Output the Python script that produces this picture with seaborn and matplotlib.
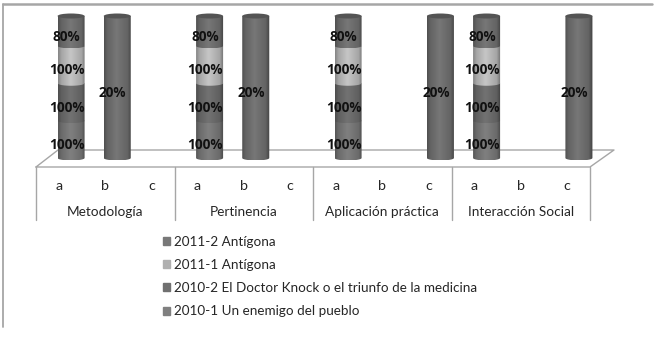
"""Encuesta por obra: columnas cilindricas apiladas al 100 %."""

import matplotlib.pyplot as plt
import numpy as np
import pandas as pd
import seaborn as sns
from matplotlib.colors import to_rgb
from matplotlib.patches import Ellipse, Patch
from matplotlib.path import Path

W, H = 657, 342

GROUPS = ["Metodología", "Pertinencia", "Aplicación práctica", "Interacción Social"]
OPTIONS = ["a", "b", "c"]

# orden: de abajo hacia arriba en cada columna
SERIES = [
    "2010-1 Un enemigo del pueblo",
    "2010-2 El Doctor Knock o el triunfo de la medicina",
    "2011-1 Antígona",
    "2011-2 Antígona",
]
VALUES_2010_1 = [100, 0, 0, 100, 0, 0, 100, 0, 0, 100, 0, 0]
VALUES_2010_2 = [100, 0, 0, 100, 0, 0, 100, 0, 0, 100, 0, 0]
VALUES_2011_1 = [100, 0, 0, 100, 0, 0, 100, 0, 0, 100, 0, 0]
VALUES_2011_2 = [80, 20, 0, 80, 20, 0, 80, 0, 20, 80, 0, 20]
COLORS = ["#747474", "#686868", "#b4b4b4", "#6c6c6c"]
LEGEND_COLORS = ["#808080", "#707070", "#b0b0b0", "#787878"]

LINE = "#a6a6a6"
TEXT = "#262626"

sns.set_theme(style="white")
plt.rcParams["font.family"] = ["Lato", "DejaVu Sans"]

fig = plt.figure(figsize=(W / 100, H / 100), dpi=100, facecolor="white")

# capa de fondo en pixeles: marco, piso y tabla de categorias
bg = fig.add_axes([0, 0, 1, 1])
bg.set_xlim(0, W)
bg.set_ylim(H, 0)
bg.axis("off")
bg.plot([3, 3], [4, 327], color=LINE, lw=1.3)
bg.plot([3, 652], [4, 4], color=LINE, lw=1.8)
bg.plot([36, 58, 614, 590, 36], [167, 150, 150, 167, 167], color=LINE, lw=1)

left, right = 36, 590
group_w = (right - left) / len(GROUPS)
for i, group in enumerate(GROUPS):
    x0 = left + i * group_w
    bg.plot([x0, x0], [167, 220], color=LINE, lw=1)
    bg.text(x0 + group_w / 2, 212.5, group, ha="center", va="center", fontsize=9.8, color=TEXT)
    for j, opt in enumerate(OPTIONS):
        bg.text(x0 + (j + 0.5) * group_w / 3, 186, opt, ha="center", va="center",
                fontsize=10.3, color=TEXT)
bg.plot([right, right], [167, 220], color=LINE, lw=1)

# columnas: el eje deja margen para las elipses de los extremos
px_per_unit = 1.42
margin = 6
ax = fig.add_axes([(left + 12) / W, 1 - (158 + margin * px_per_unit) / H,
                   (right - left) / W, (142 + 2 * margin * px_per_unit) / H])
ax.patch.set_alpha(0)

labels = [f"{g} {o}" for g in GROUPS for o in OPTIONS]
table = pd.DataFrame(
    [VALUES_2010_1, VALUES_2010_2, VALUES_2011_1, VALUES_2011_2],
    index=SERIES,
    columns=labels,
)
shares = table / table.sum() * 100
tops = shares.cumsum()

# sombreado horizontal del cilindro
u = np.linspace(0, 1, 60)
shade = np.interp(u, [0, 0.12, 0.45, 0.85, 1], [0.74, 0.92, 1.1, 0.92, 0.62])

ry = 2.5 / px_per_unit  # semieje de la elipse, en unidades de datos
layer = 3
for row, (name, color) in enumerate(zip(SERIES, COLORS)):
    before = len(ax.patches)
    sns.barplot(x=labels, y=tops.loc[name].values, order=labels, color=color, saturation=1,
                width=0.585, errorbar=None, ax=ax)
    rgb = np.array(to_rgb(color))
    grad = np.clip(shade[None, :, None] * rgb[None, None, :], 0, 1)
    for bar in ax.patches[before:]:
        bar.set_visible(False)
        x0, w = bar.get_x(), bar.get_width()
        k = int(round(x0 + w / 2))
        value = table.loc[name].iloc[k]
        if value == 0:
            continue
        top = bar.get_height()
        y0 = top - shares.loc[name].iloc[k]
        # cuerpo con el borde inferior curvo
        t = np.linspace(np.pi, 2 * np.pi, 30)
        xs = x0 + w / 2 + w / 2 * np.cos(t)
        ys = y0 + ry * np.sin(t)
        clip = Path(list(zip(xs, ys)) + [(x0 + w, top), (x0, top), (x0, y0)])
        img = ax.imshow(grad, extent=[x0, x0 + w, y0 - ry, top], aspect="auto",
                        zorder=layer, origin="lower", interpolation="bilinear")
        img.set_clip_path(clip, transform=ax.transData)
        if top >= 99.9:
            ax.add_patch(Ellipse((x0 + w / 2, top), w, 2 * ry,
                                 color=tuple(rgb * 0.78), lw=0, zorder=layer + 1))
        ax.annotate(f"{value}%", (x0 + w / 2, (y0 + top) / 2),
                    xytext=(-3.3, -4), textcoords="offset points",
                    ha="center", va="center", fontsize=9.8, fontweight="bold",
                    family="Open Sans", color="#111111", zorder=30)
    layer += 2

ax.set_xlim(-0.5, len(labels) - 0.5)
ax.set_ylim(-margin, 100 + margin)
ax.axis("off")

# leyenda
handles = [Patch(color=c, label=s) for s, c in zip(SERIES, LEGEND_COLORS)][::-1]
bg.legend(handles=handles, loc="upper left", bbox_to_anchor=(162.5 / W, 1 - 235.5 / H),
          frameon=False, fontsize=9.7, handlelength=0.55, handleheight=0.55,
          handletextpad=0.28, labelspacing=0.84, borderpad=0, borderaxespad=0,
          labelcolor=TEXT)

fig.savefig("out.png", dpi=100, facecolor="white")
